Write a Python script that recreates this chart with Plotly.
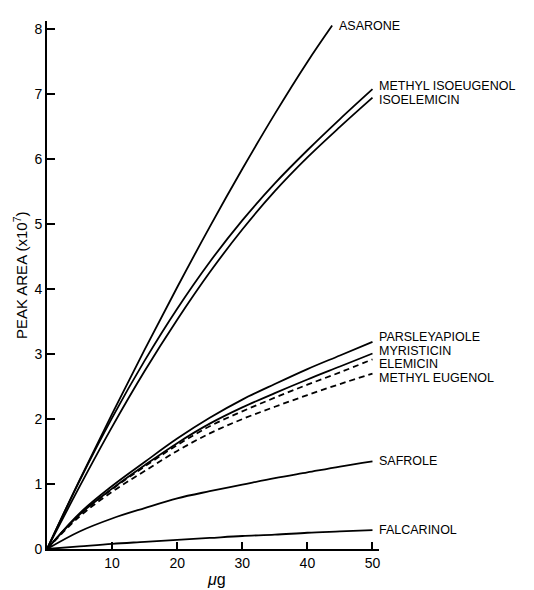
import plotly.graph_objects as go

# ---- data ----
x_ug = [0, 5, 10, 15, 20, 25, 30, 35, 40, 45, 50]
x_asarone = [0, 5, 10, 15, 20, 25, 30, 35, 40, 43.8]

asarone = [0, 1.06, 2.08, 3.07, 4.03, 4.96, 5.85, 6.7, 7.5, 8.06]
methyl_isoeugenol = [0, 1.05, 2.02, 2.9, 3.7, 4.42, 5.06, 5.63, 6.14, 6.62, 7.08]
isoelemicin = [0, 0.96, 1.88, 2.74, 3.53, 4.26, 4.92, 5.51, 6.03, 6.5, 6.95]
parsleyapiole = [0, 0.55, 0.97, 1.34, 1.7, 2.02, 2.3, 2.54, 2.77, 2.98, 3.19]
myristicin = [0, 0.53, 0.93, 1.29, 1.63, 1.93, 2.18, 2.4, 2.61, 2.81, 3.01]
elemicin = [0, 0.53, 0.92, 1.27, 1.6, 1.89, 2.12, 2.33, 2.53, 2.72, 2.92]
methyl_eugenol = [0, 0.5, 0.88, 1.2, 1.51, 1.78, 2.0, 2.19, 2.37, 2.54, 2.7]
safrole = [0, 0.27, 0.47, 0.63, 0.78, 0.89, 0.99, 1.09, 1.18, 1.27, 1.35]
falcarinol = [0, 0.04, 0.08, 0.11, 0.14, 0.17, 0.2, 0.22, 0.25, 0.27, 0.29]

x_ticks = [10, 20, 30, 40, 50]
y_ticks = [0, 1, 2, 3, 4, 5, 6, 7, 8]

series = [
    ("ASARONE", x_asarone, asarone, "solid", 0),
    ("METHYL ISOEUGENOL", x_ug, methyl_isoeugenol, "solid", 3),
    ("ISOELEMICIN", x_ug, isoelemicin, "solid", -2),
    ("PARSLEYAPIOLE", x_ug, parsleyapiole, "solid", 5),
    ("MYRISTICIN", x_ug, myristicin, "solid", 3),
    ("ELEMICIN", x_ug, elemicin, "6px,4px", -4.5),
    ("METHYL EUGENOL", x_ug, methyl_eugenol, "6px,4px", -4),
    ("SAFROLE", x_ug, safrole, "solid", 0),
    ("FALCARINOL", x_ug, falcarinol, "solid", 0),
]

FONT = "Liberation Sans, Arial, sans-serif"

fig = go.Figure()
for name, xs, ys, dash, _ in series:
    fig.add_trace(go.Scatter(
        x=xs, y=ys, mode="lines", name=name,
        line=dict(color="black", width=1.8, dash=dash, shape="spline", smoothing=1.0),
        showlegend=False, hoverinfo="skip",
    ))

annotations = []
for name, xs, ys, dash, dy in series:
    annotations.append(dict(
        x=xs[-1], y=ys[-1], xref="x", yref="y", text=name, showarrow=False,
        xanchor="left", yanchor="middle", xshift=5, yshift=dy,
        font=dict(family=FONT, size=12.5, color="black"),
    ))

annotations.append(dict(
    x=-0.078, y=0.519, xref="paper", yref="paper", text="PEAK AREA (x10<sup>7</sup>)",
    showarrow=False, textangle=-90, xanchor="center", yanchor="middle",
    font=dict(family=FONT, size=15, color="black"),
))
annotations.append(dict(
    x=0.51, y=-0.057, xref="paper", yref="paper", text="<i>μ</i>g",
    showarrow=False, xanchor="center", yanchor="middle",
    font=dict(family=FONT, size=16, color="black"),
))

fig.update_layout(
    width=534, height=590,
    margin=dict(l=47, r=155, t=21, b=41),
    paper_bgcolor="white", plot_bgcolor="white",
    annotations=annotations,
    font=dict(family=FONT, color="black"),
)
fig.update_xaxes(
    range=[0, 51], tickvals=x_ticks, ticks="inside", ticklen=7, tickwidth=1.5,
    tickcolor="black", showline=True, linecolor="black", linewidth=1.8,
    showgrid=False, zeroline=False, tickfont=dict(family=FONT, size=14, color="black"),
)
fig.update_yaxes(
    range=[0, 8.13], tickvals=y_ticks, ticks="inside", ticklen=8, tickwidth=1.5,
    tickcolor="black", showline=True, linecolor="black", linewidth=1.8,
    showgrid=False, zeroline=False, tickfont=dict(family=FONT, size=14, color="black"),
)

fig.write_html("out.html", config={"displayModeBar": False},
               post_script="document.body.style.margin='0';")
